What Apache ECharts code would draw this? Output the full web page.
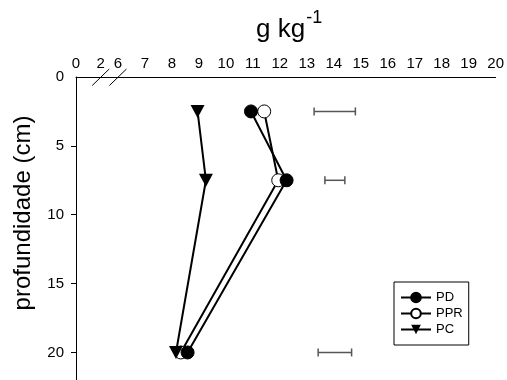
<!DOCTYPE html>
<html>
<head>
<meta charset="utf-8">
<script src="https://cdn.jsdelivr.net/npm/echarts@6/dist/echarts.min.js"></script>
<style>html,body{margin:0;padding:0;background:#fff;}#c{width:507px;height:380px;}</style>
</head>
<body>
<div id="c"></div>
<script>
// ---- data ----
const depth = [2.5, 7.5, 20];
const pd  = [10.93, 12.25, 8.58];
const ppr = [11.42, 11.94, 8.33];
const pc  = [8.95, 9.26, 8.15];
const errDepth = [2.5, 7.5, 20];
const errLow  = [13.27, 13.67, 13.42];
const errHigh = [14.80, 14.41, 14.66];
const xTicksLeft  = [0, 2];
const xTicksRight = [6, 7, 8, 9, 10, 11, 12, 13, 14, 15, 16, 17, 18, 19, 20];
const yTicks = [0, 5, 10, 15, 20];
const seriesNames = ['PD', 'PPR', 'PC'];

const FONT = 'Liberation Sans, Arial, sans-serif';
const chart = echarts.init(document.getElementById('c'));
const pts = arr => arr.map((v, i) => [v, depth[i]]);
const downTri = 'path://M0,0 L10,0 L5,9 Z';

const option = {
  animation: false,
  backgroundColor: '#fff',
  title: {
    text: '{a|g kg}{b|-1}',
    left: 251, top: 4,
    textStyle: {
      rich: {
        a: { fontFamily: FONT, fontSize: 26, fontWeight: 'normal', color: '#000', lineHeight: 34, verticalAlign: 'bottom' },
        b: { fontFamily: FONT, fontSize: 18, fontWeight: 'normal', color: '#000', lineHeight: 34, verticalAlign: 'top', padding: [0, 0, 0, 1] }
      }
    }
  },
  grid: [
    { left: 76, top: 77, width: 33, bottom: 0 },
    { left: 109, top: 77, right: 11, bottom: 0 }
  ],
  xAxis: [
    {
      gridIndex: 0, type: 'value', position: 'top', min: 0, max: 2.67,
      axisLine: { show: true, lineStyle: { color: '#000', width: 1 } },
      axisTick: { show: false },
      splitLine: { show: false },
      axisLabel: { customValues: xTicksLeft, margin: 6, color: '#000', fontFamily: FONT, fontSize: 15 }
    },
    {
      gridIndex: 1, type: 'value', position: 'top', min: 5.667, max: 20,
      axisLine: { show: true, lineStyle: { color: '#000', width: 1 } },
      axisTick: { show: false },
      splitLine: { show: false },
      axisLabel: { customValues: xTicksRight, margin: 6, color: '#000', fontFamily: FONT, fontSize: 15, hideOverlap: false }
    }
  ],
  yAxis: [
    {
      gridIndex: 0, type: 'value', inverse: true, min: 0, max: 22,
      axisLine: { show: true, lineStyle: { color: '#000', width: 1 } },
      axisTick: { show: true, inside: false, length: 5, customValues: yTicks.slice(1), lineStyle: { color: '#000' } },
      splitLine: { show: false },
      axisLabel: { customValues: yTicks, margin: 12, color: '#000', fontFamily: FONT, fontSize: 15 }
    },
    {
      gridIndex: 1, type: 'value', inverse: true, min: 0, max: 22, show: false,
      splitLine: { show: false }
    }
  ],
  legend: {
    data: seriesNames,
    orient: 'vertical',
    left: 394, top: 282,
    padding: [8, 6, 8, 6],
    itemGap: 1,
    itemWidth: 30, itemHeight: 12,
    borderColor: '#000', borderWidth: 1, borderRadius: 0,
    textStyle: { fontFamily: FONT, fontSize: 13, color: '#000', lineHeight: 15 }
  },
  series: [
    {
      name: 'PPR', type: 'line', xAxisIndex: 1, yAxisIndex: 1, data: pts(ppr),
      symbol: 'circle', symbolSize: 13,
      lineStyle: { color: '#000', width: 2 },
      itemStyle: { color: '#fff', borderColor: '#000', borderWidth: 1 }, z: 3
    },
    {
      name: 'PD', type: 'line', xAxisIndex: 1, yAxisIndex: 1, data: pts(pd),
      symbol: 'circle', symbolSize: 13,
      lineStyle: { color: '#000', width: 2 },
      itemStyle: { color: '#000', borderColor: '#000', borderWidth: 1 }, z: 4
    },
    {
      name: 'PC', type: 'line', xAxisIndex: 1, yAxisIndex: 1, data: pts(pc),
      symbol: downTri, symbolSize: [14, 13],
      lineStyle: { color: '#000', width: 2 },
      itemStyle: { color: '#000' }, z: 5
    },
    {
      name: 'err', type: 'custom', xAxisIndex: 1, yAxisIndex: 1,
      data: errDepth.map((d, i) => [errLow[i], errHigh[i], d]),
      encode: { x: [0, 1], y: 2 },
      renderItem: function (params, api) {
        const y = api.value(2);
        const a = api.coord([api.value(0), y]);
        const b = api.coord([api.value(1), y]);
        const st = { stroke: '#555', lineWidth: 1.5 };
        const h = 4;
        return {
          type: 'group',
          children: [
            { type: 'line', shape: { x1: a[0], y1: a[1], x2: b[0], y2: b[1] }, style: st },
            { type: 'line', shape: { x1: a[0], y1: a[1] - h, x2: a[0], y2: a[1] + h }, style: st },
            { type: 'line', shape: { x1: b[0], y1: b[1] - h, x2: b[0], y2: b[1] + h }, style: st }
          ]
        };
      }
    }
  ]
};
chart.setOption(option);

// axis-break marks at the break between 2 and 6
const xa = chart.convertToPixel({ xAxisIndex: 0 }, 2);
const xb = chart.convertToPixel({ xAxisIndex: 1 }, 6);
const ya = chart.convertToPixel({ yAxisIndex: 0 }, 0);
const slash = cx => ({
  type: 'line',
  shape: { x1: cx - 8.5, y1: ya + 8.5, x2: cx + 8.5, y2: ya - 8 },
  style: { stroke: '#000', lineWidth: 1 }
});
chart.setOption({
  graphic: [
    {
      type: 'text', rotation: Math.PI / 2, x: 23, y: 213,
      style: { text: 'profundidade (cm)', fontFamily: FONT, fontSize: 24, fill: '#000', align: 'center', verticalAlign: 'middle' }
    },
    slash(xa), slash(xb)
  ]
});
</script>
</body>
</html>
